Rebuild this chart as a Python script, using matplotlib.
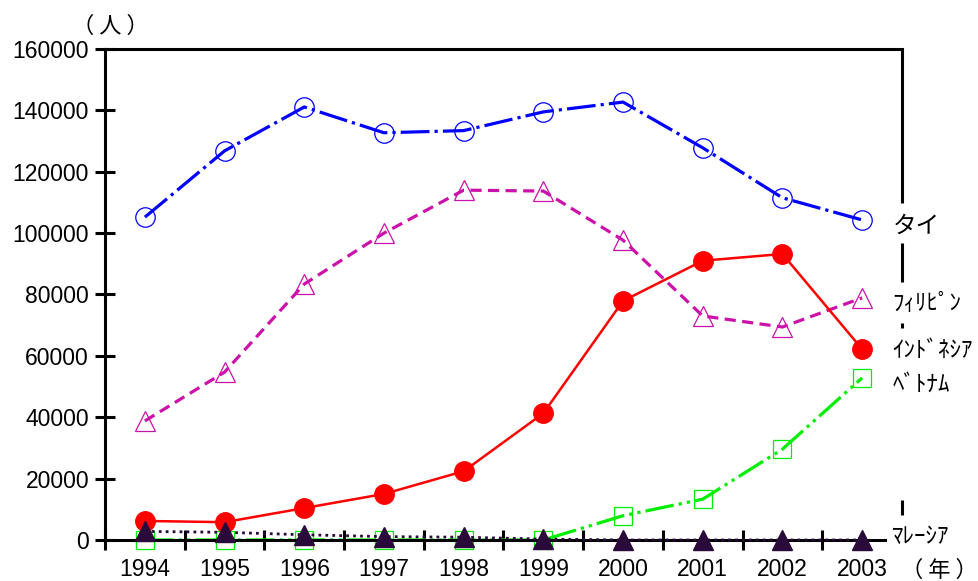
import matplotlib.pyplot as plt

plt.rcParams['font.family'] = ['Liberation Sans', 'Noto Sans CJK JP', 'DejaVu Sans']

years = ['1994', '1995', '1996', '1997', '1998', '1999', '2000', '2001', '2002', '2003']
thailand = [105200, 126800, 141100, 132700, 133400, 139500, 142700, 127800, 111500, 104300]
philippines = [38800, 54700, 83400, 100000, 114000, 113700, 97700, 73000, 69400, 78900]
indonesia = [6200, 5800, 10400, 15000, 22400, 41300, 77900, 91000, 93200, 62200]
vietnam = [0, 0, 0, 0, 0, 0, 7900, 13300, 29600, 52800]
malaysia = [2800, 2500, 1700, 1100, 900, 300, 0, 0, 0, 0]
yticks = [0, 20000, 40000, 60000, 80000, 100000, 120000, 140000, 160000]

x = list(range(len(years)))

fig = plt.figure(figsize=(9.79, 5.81), dpi=100)
ax = fig.add_axes([0.1073, 0.0706, 0.8140, 0.8451])

ax.plot(x, thailand, color='#0000FF', lw=2.3, ls=(0, (9, 1.6, 1, 1.6)),
        marker='o', ms=14, mfc='none', mec='#0000FF', mew=0.9, clip_on=False, zorder=3)
ax.plot(x, philippines, color='#CC11AA', lw=2.3, ls=(0, (3.5, 2)),
        marker='^', ms=15, mfc='none', mec='#CC11AA', mew=0.9, clip_on=False, zorder=3)
ax.plot(x, vietnam, color='#00EE00', lw=2.3, ls=(0, (9, 1.6, 1, 1.6, 1, 1.6)),
        marker='s', ms=13, mfc='none', mec='#00EE00', mew=0.9, clip_on=False, zorder=4)
ax.plot(x, indonesia, color='#FF0000', lw=1.8, ls='-',
        marker='o', ms=14, mfc='#FF0000', mec='#FF0000', clip_on=False, zorder=5)
ax.plot(x, malaysia, color='#2A0A3A', lw=2.0, ls=(0, (1, 1.5)),
        marker='^', ms=14, mfc='#2A0A3A', mec='#2A0A3A', clip_on=False, zorder=6)

ax.set_xlim(-0.5, 9.5)
ax.set_ylim(0, 160000)
ax.set_yticks(yticks)
ax.set_yticklabels([str(v) for v in yticks])
ax.set_xticks(x)
ax.set_xticklabels(years)
ax.set_xticks([i - 0.5 for i in x], minor=True)

ax.tick_params(axis='y', direction='inout', length=15, width=2.2, labelsize=16.5, pad=4)
ax.tick_params(axis='x', which='major', length=0, labelsize=16.5, pad=13)
ax.tick_params(axis='x', which='minor', direction='inout', length=14, width=2.2)

for s in ['left', 'bottom', 'top']:
    ax.spines[s].set_linewidth(2.2)
    ax.spines[s].set_zorder(5)
ax.spines['bottom'].set_bounds(-0.5, 9.29)
ax.spines['right'].set_visible(False)
# right frame, broken where the series names sit
for lo, hi in [(109800, 160000), (84100, 96800), (69100, 70700), (8100, 13000)]:
    ax.vlines(9.5, lo, hi, colors='black', lw=2.2, clip_on=False)

lbl = dict(transform=ax.transData, va='center', ha='left', clip_on=False,
           family=['Noto Sans CJK JP', 'DejaVu Sans'])
ax.text(9.39, 102200, 'タイ', fontsize=17, **lbl)
ax.text(9.38, 77200, 'ﾌｨﾘﾋﾟﾝ', fontsize=16.5, **lbl)
ax.text(9.38, 61800, 'ｲﾝﾄﾞﾈｼｱ', fontsize=16.5, **lbl)
ax.text(9.38, 50900, 'ﾍﾞﾄﾅﾑ', fontsize=16.5, **lbl)
ax.text(9.38, 1100, 'ﾏﾚｰｼｱ', fontsize=16.5, **lbl)

fig.text(0.113, 0.955, '（ 人 ）', fontsize=16, ha='center', va='center',
         family=['Noto Sans CJK JP', 'DejaVu Sans'])
fig.text(0.960, 0.018, '（ 年 ）', fontsize=16, ha='center', va='center',
         family=['Noto Sans CJK JP', 'DejaVu Sans'])

fig.savefig('out.png', dpi=100)
